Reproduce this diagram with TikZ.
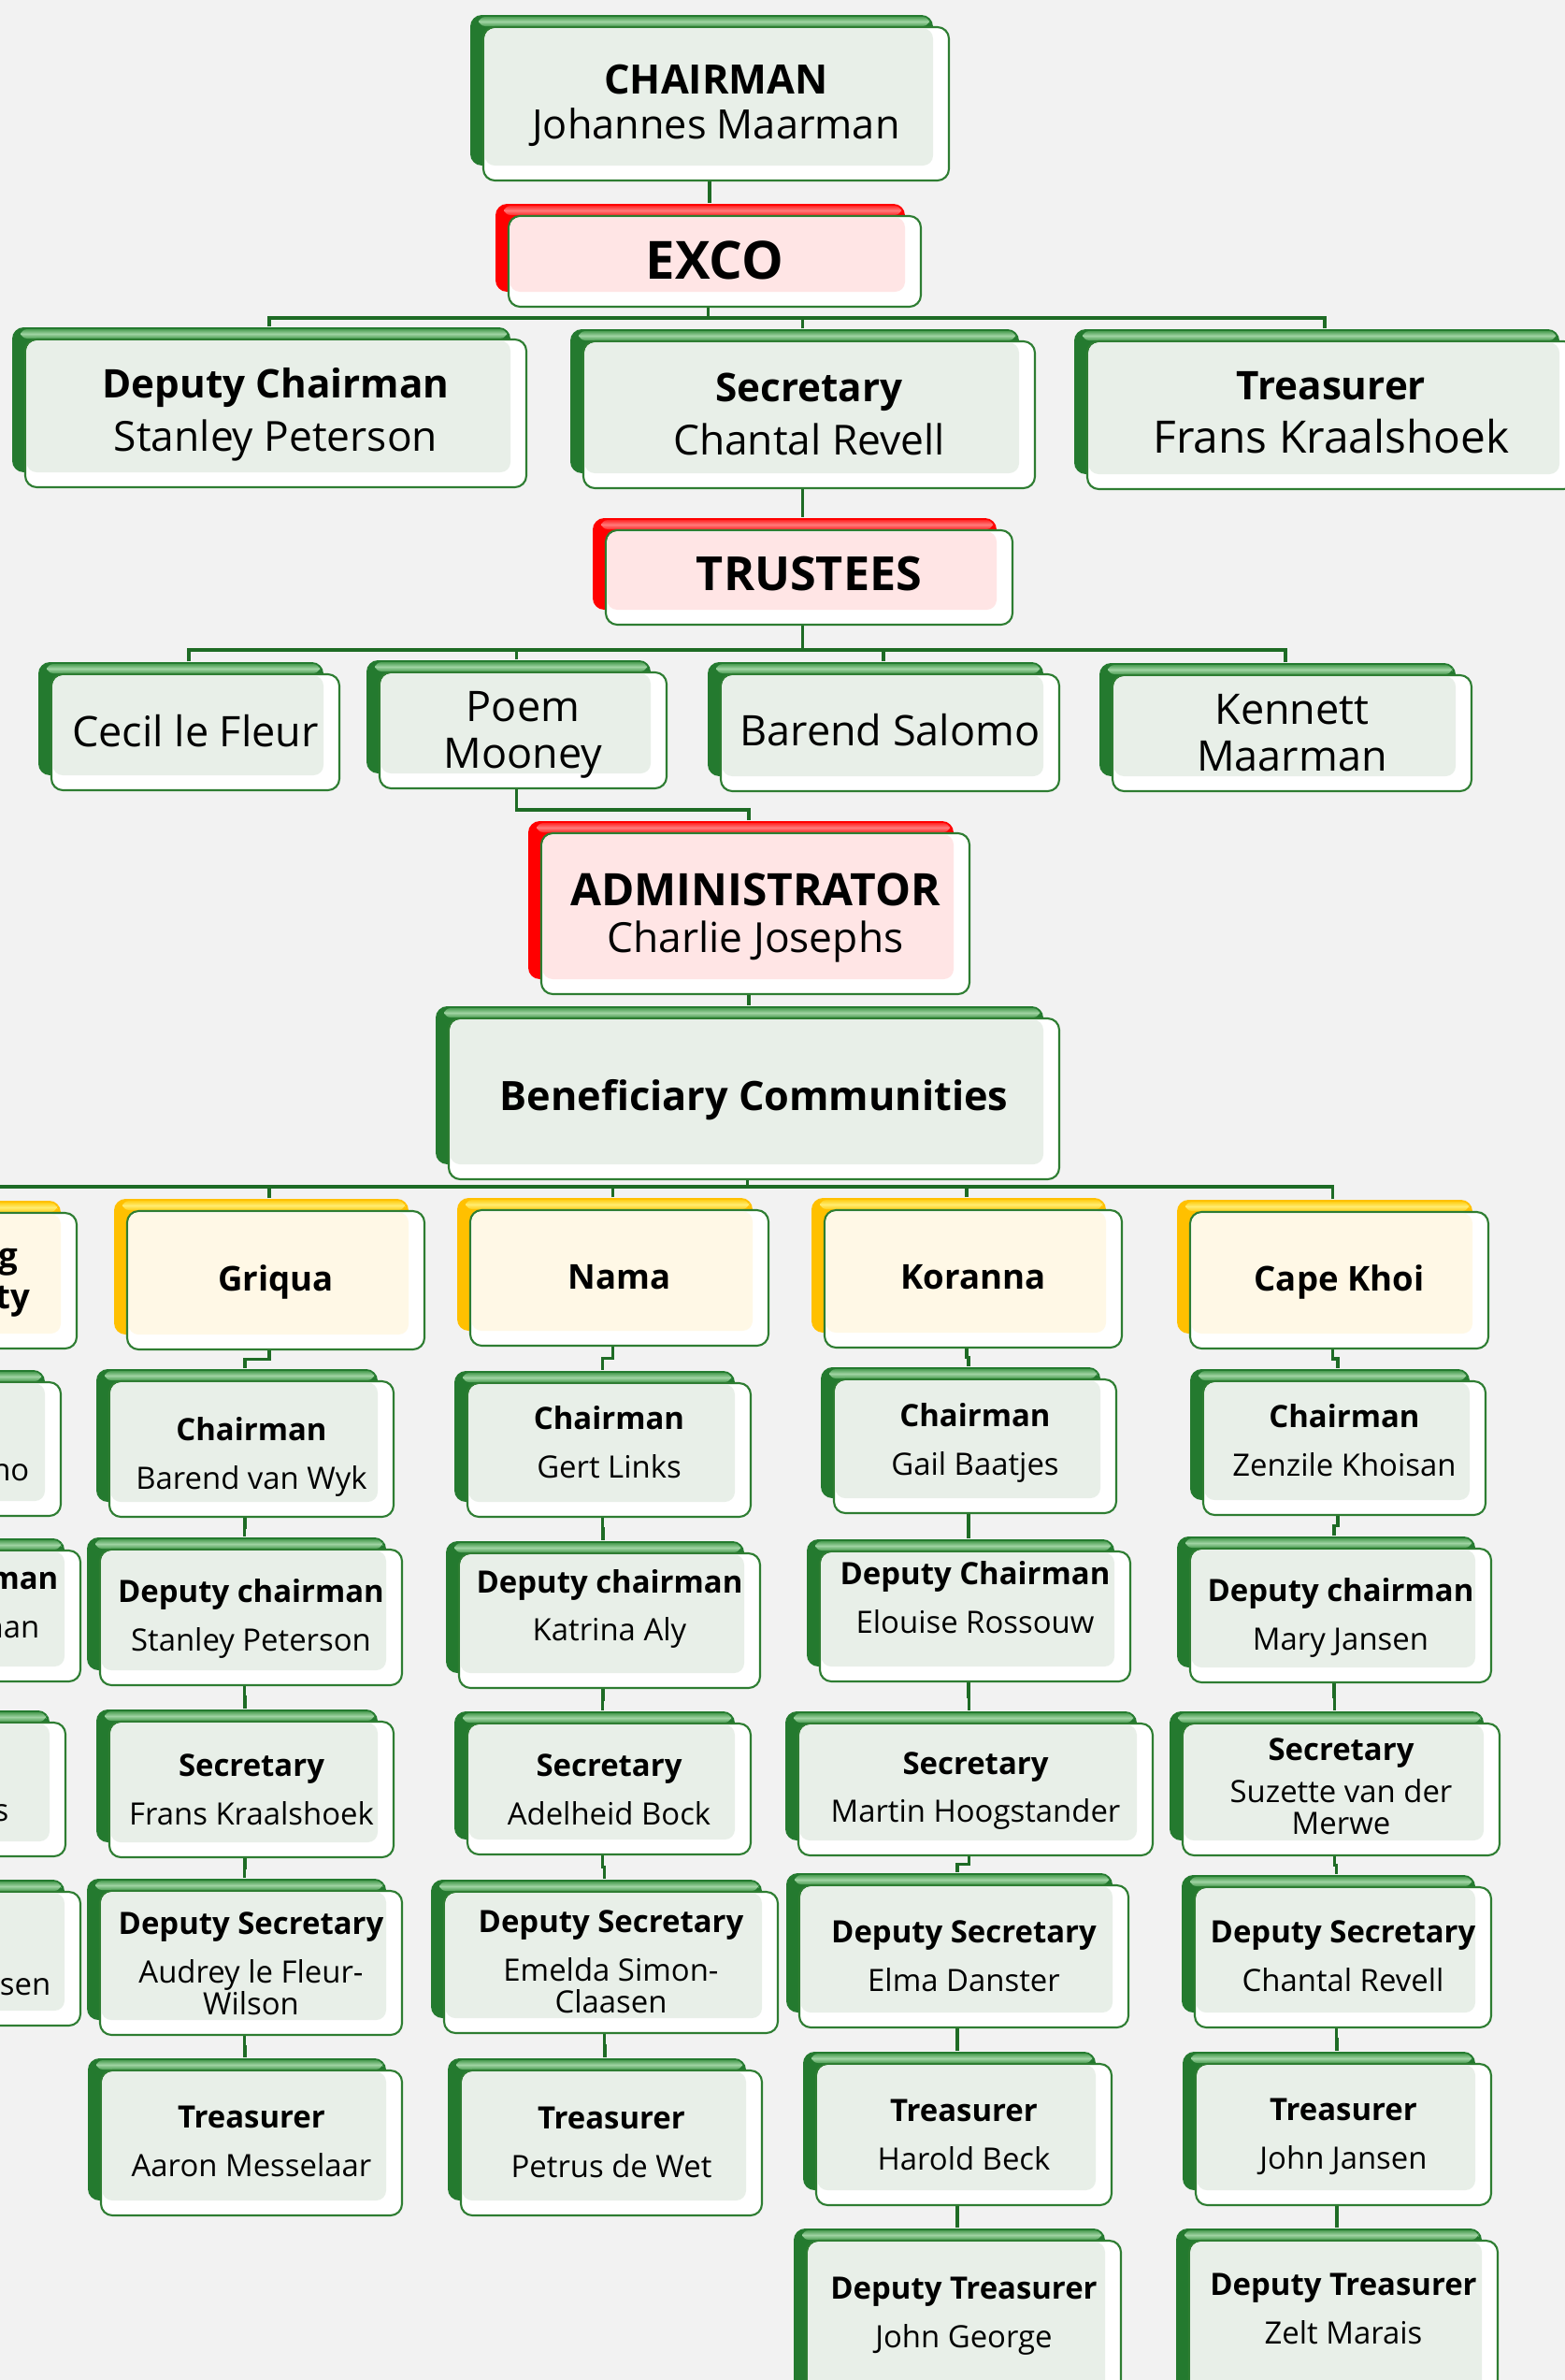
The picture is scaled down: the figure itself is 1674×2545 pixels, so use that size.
\documentclass[tikz,border=0pt]{standalone}
\usepackage{fontspec}
\setmainfont{Open Sans}
\usetikzlibrary{fit,calc}
\pgfdeclarelayer{bgfill}
\pgfdeclarelayer{links}
\pgfsetlayers{bgfill,links,main}
\definecolor{bgc}{HTML}{F2F2F2}
\definecolor{conn}{HTML}{1E6B25}
\definecolor{boxline}{HTML}{2E7D32}
\definecolor{gD}{HTML}{247A2F}
\definecolor{gM}{HTML}{4E9F55}
\definecolor{gL}{HTML}{9FD3A2}
\definecolor{gpan}{HTML}{E8EFE8}
\definecolor{rD}{HTML}{FF0000}
\definecolor{rM}{HTML}{FF2A2A}
\definecolor{rL}{HTML}{FF7A7A}
\definecolor{rpan}{HTML}{FFE5E5}
\definecolor{yD}{HTML}{FFC000}
\definecolor{yM}{HTML}{FFCF1A}
\definecolor{yL}{HTML}{FFEC70}
\definecolor{ypan}{HTML}{FFF8E6}
\tikzset{
  gback/.style={fill=gD}, gband/.style={top color=gM, bottom color=gM, middle color=gL}, gpanel/.style={fill=gpan},
  rback/.style={fill=rD}, rband/.style={top color=rM, bottom color=rM, middle color=rL}, rpanel/.style={fill=rpan},
  yback/.style={fill=yD}, yband/.style={top color=yM, bottom color=yM, middle color=yL}, ypanel/.style={fill=ypan},
  cline/.style={draw=conn, line width=0.9pt},
  t1/.style={font=\fontsize{12.3pt}{13.7pt}\selectfont},
  big/.style={font=\fontsize{16pt}{18pt}\selectfont},
  bigt/.style={font=\fontsize{14.3pt}{16pt}\selectfont},
  t2/.style={font=\fontsize{12pt}{16.2pt}\selectfont},
  t3/.style={font=\fontsize{12.8pt}{14.2pt}\selectfont},
  t4/.style={font=\fontsize{12.6pt}{14.4pt}\selectfont},
  t5/.style={font=\fontsize{12.3pt}{14pt}\selectfont},
  comm/.style={font=\fontsize{10.4pt}{12.5pt}\selectfont\bfseries},
  low/.style={font=\fontsize{9.35pt}{9.7pt}\selectfont},
  fragb/.style={font=\fontsize{9.35pt}{9.7pt}\selectfont\bfseries, anchor=mid east, inner sep=0pt},
  fragr/.style={font=\fontsize{9.35pt}{9.7pt}\selectfont, anchor=mid east, inner sep=0pt},
}
% name, fx, fy, fr, fb, kind, textstyle, text, text y-offset
\newcommand\obox[9]{%
  \fill[#6back,rounded corners=3.5pt] (#2-14,#3-13) rectangle (#4-17,#5-16);
  \shade[#6band,rounded corners=2pt] (#2-5,#3-11) rectangle (#4-21,#3-1);
  \draw[fill=white,draw=boxline,line width=0.6pt,rounded corners=3.5pt] (#2,#3) rectangle (#4,#5);
  \fill[#6panel,rounded corners=3pt] (#2+1.5,#3+1.5) rectangle (#4-17,#5-16);
  \node[fit={(#2-14,#3-13) (#4,#5)},inner sep=0pt] (#1) {};
  \node[#7,align=center,inner sep=0pt] (#1-txt) at ($(#1.center)+(7,#9)$) {#8};
}
\newcommand\rolet[2]{{\bfseries #1}\\[5pt]#2}
\newcommand\vlink[2]{\draw[cline] (#1.south) -- ($(#1.south)!0.5!(#1.south|-#2.north)$) -| (#2.north);}

\begin{document}
\begin{tikzpicture}[x=0.01cm,y=-0.01cm]
\useasboundingbox (0,0) rectangle (1674,2545);
\begin{pgfonlayer}{bgfill}
\fill[bgc] (0,0) rectangle (1674,2545);
\end{pgfonlayer}
\coordinate (busA) at (0,340);
\coordinate (busB) at (0,695);
\coordinate (busC) at (0,866);
\coordinate (busD) at (0,1269);

% top levels
\obox{chair}{517}{29}{1015}{193}{g}{t1}{{\bfseries CHAIRMAN}\\Johannes Maarman}{8}
\obox{exco}{544}{231}{985}{328}{r}{big}{\bfseries EXCO}{5}
\obox{dep}{27}{363}{563}{521}{g}{t2}{{\bfseries Deputy Chairman}\\{\fontsize{12.6pt}{16.2pt}\selectfont Stanley Peterson}}{8}
\obox{sec}{624}{365}{1107}{522}{g}{t2}{{\bfseries Secretary}\\{\fontsize{12.6pt}{16.2pt}\selectfont Chantal Revell}}{6}
\obox{tre}{1163}{365}{1685}{523}{g}{t2}{{\bfseries Treasurer}\\{\fontsize{13.6pt}{16.2pt}\selectfont Frans Kraalshoek}}{4}
\obox{trus}{648}{567}{1083}{668}{r}{bigt}{\bfseries TRUSTEES}{3}
\obox{cecil}{55}{721}{363}{845}{g}{t3}{Cecil le Fleur}{5}
\obox{poem}{406}{719}{713}{843}{g}{t3}{Poem\\Mooney}{11}
\obox{barend}{771}{721}{1133}{846}{g}{t3}{Barend Salomo}{4}
\obox{kennett}{1190}{722}{1574}{846}{g}{t3}{Kennett\\Maarman}{6}
\obox{admin}{579}{891}{1037}{1063}{r}{t4}{{\fontsize{13.6pt}{14.4pt}\selectfont\bfseries ADMINISTRATOR}\\Charlie Josephs}{11}
\obox{bc}{480}{1089}{1133}{1261}{g}{t5}{\bfseries Beneficiary Communities}{8}

% communities
\obox{lcomm}{-240}{1297}{82}{1442}{y}{comm}{}{0}
\obox{griqua}{136}{1295}{454}{1443}{y}{comm}{Griqua}{8}
\obox{nama}{503}{1294}{822}{1439}{y}{comm}{Nama}{6}
\obox{koranna}{882}{1294}{1200}{1441}{y}{comm}{Koranna}{5}
\obox{cape}{1273}{1296}{1592}{1442}{y}{comm}{Cape Khoi}{8}

% left column (cut off at the edge)
\obox{l1}{-240}{1478}{65}{1621}{g}{low}{}{0}
\obox{l2}{-240}{1658}{86}{1798}{g}{low}{}{0}
\obox{l3}{-240}{1842}{70}{1985}{g}{low}{}{0}
\obox{l4}{-240}{2023}{86}{2166}{g}{low}{}{0}
\node[fragb,font=\fontsize{10.4pt}{12pt}\selectfont\bfseries] (lfa) at (20,1346) {g};
\node[fragb,font=\fontsize{10.4pt}{12pt}\selectfont\bfseries] (lfb) at (33,1390) {ty};
\node[fragr] (lfc) at (32,1574) {no};
\node[fragb] (lfd) at (63,1690) {man};
\node[fragr] (lfe) at (43,1742) {nan};
\node[fragr] (lff) at (10,1938) {s};
\node[fragr] (lfg) at (55,2124) {sen};

% Griqua
\obox{g1}{117}{1477}{421}{1622}{g}{low}{\rolet{Chairman}{Barend van Wyk}}{15}
\obox{g2}{107}{1657}{430}{1802}{g}{low}{\rolet{Deputy chairman}{Stanley Peterson}}{8}
\obox{g3}{117}{1841}{421}{1986}{g}{low}{\rolet{Secretary}{Frans Kraalshoek}}{7}
\obox{g4}{107}{2022}{430}{2176}{g}{low}{\rolet{Deputy Secretary}{Audrey le Fleur-\\Wilson}}{7}
\obox{g5}{108}{2214}{430}{2369}{g}{low}{\rolet{Treasurer}{Aaron Messelaar}}{5}
% Nama
\obox{n1}{500}{1479}{803}{1622}{g}{low}{\rolet{Chairman}{Gert Links}}{-2}
\obox{n2}{491}{1661}{813}{1805}{g}{low}{\rolet{Deputy chairman}{Katrina Aly}}{-6}
\obox{n3}{500}{1843}{803}{1983}{g}{low}{\rolet{Secretary}{Adelheid Bock}}{7}
\obox{n4}{475}{2023}{832}{2174}{g}{low}{\rolet{Deputy Secretary}{Emelda Simon-\\Claasen}}{6}
\obox{n5}{493}{2214}{815}{2369}{g}{low}{\rolet{Treasurer}{Petrus de Wet}}{6}
% Koranna
\obox{k1}{892}{1475}{1194}{1618}{g}{low}{\rolet{Chairman}{Gail Baatjes}}{3}
\obox{k2}{877}{1659}{1209}{1798}{g}{low}{\rolet{Deputy Chairman}{Elouise Rossouw}}{-14}
\obox{k3}{854}{1843}{1233}{1984}{g}{low}{\rolet{Secretary}{Martin Hoogstander}}{8}
\obox{k4}{855}{2016}{1207}{2168}{g}{low}{\rolet{Deputy Secretary}{Elma Danster}}{6}
\obox{k5}{873}{2207}{1189}{2358}{g}{low}{\rolet{Treasurer}{Harold Beck}}{7}
\obox{k6}{863}{2396}{1199}{2575}{g}{low}{\rolet{Deputy Treasurer}{John George}}{-2}
% Cape Khoi
\obox{c1}{1287}{1477}{1589}{1620}{g}{low}{\rolet{Chairman}{Zenzile Khoisan}}{-2}
\obox{c2}{1273}{1656}{1595}{1799}{g}{low}{\rolet{Deputy chairman}{Mary Jansen}}{9}
\obox{c3}{1265}{1843}{1604}{1984}{g}{low}{{\bfseries Secretary}\\[3pt]Suzette van der\\Merwe}{3}
\obox{c4}{1278}{2018}{1595}{2168}{g}{low}{\rolet{Deputy Secretary}{Chantal Revell}}{5}
\obox{c5}{1279}{2207}{1595}{2358}{g}{low}{\rolet{Treasurer}{John Jansen}}{9}
\obox{c6}{1272}{2396}{1602}{2575}{g}{low}{\rolet{Deputy Treasurer}{Zelt Marais}}{-10}

\begin{pgfonlayer}{links}
\draw[cline] (chair.south) -- (chair.south |- exco.north);
\draw[cline] (exco.south) -- (exco.south |- busA);
\foreach \nm in {dep,sec,tre}{\draw[cline] (\nm.north) -- (\nm.north |- busA) -- (exco.south |- busA);}
\draw[cline] (sec.south) -- (sec.south |- trus.north);
\draw[cline] (trus.south) -- (trus.south |- busB);
\foreach \nm in {cecil,poem,barend,kennett}{\draw[cline] (\nm.north) -- (\nm.north |- busB) -- (trus.south |- busB);}
\draw[cline] (poem.south) -- (poem.south |- busC) -| (admin.north);
\draw[cline] (admin.south) -- (admin.south |- bc.north);
\draw[cline] (bc.south) -- (bc.south |- busD);
\foreach \nm in {lcomm,griqua,nama,koranna,cape}{\draw[cline] (\nm.north) -- (\nm.north |- busD) -- (bc.south |- busD);}
\vlink{lcomm}{l1}\vlink{l1}{l2}\vlink{l2}{l3}\vlink{l3}{l4}
\vlink{griqua}{g1}\vlink{g1}{g2}\vlink{g2}{g3}\vlink{g3}{g4}\vlink{g4}{g5}
\vlink{nama}{n1}\vlink{n1}{n2}\vlink{n2}{n3}\vlink{n3}{n4}\vlink{n4}{n5}
\vlink{koranna}{k1}\vlink{k1}{k2}\vlink{k2}{k3}\vlink{k3}{k4}\vlink{k4}{k5}\vlink{k5}{k6}
\vlink{cape}{c1}\vlink{c1}{c2}\vlink{c2}{c3}\vlink{c3}{c4}\vlink{c4}{c5}\vlink{c5}{c6}
\end{pgfonlayer}
\end{tikzpicture}
\end{document}
